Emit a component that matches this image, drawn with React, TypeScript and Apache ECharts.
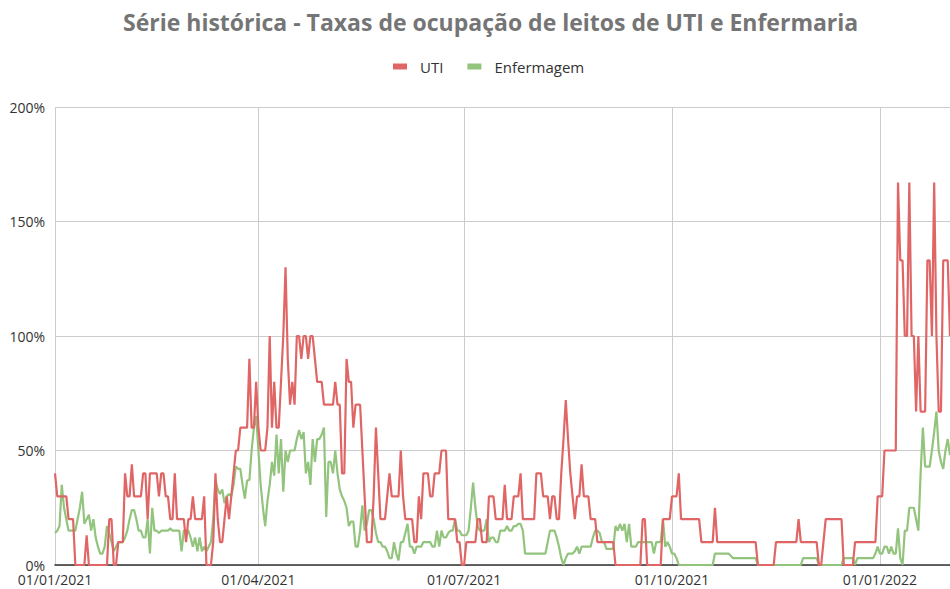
import React, { useEffect, useRef } from "react";
import * as echarts from "echarts";

const TITLE = "Série histórica - Taxas de ocupação de leitos de UTI e Enfermaria";
const SERIES_NAMES = ["UTI", "Enfermagem"];
const START_DATE = "2021-01-01";
const DAY_COUNT = 397;
const QUARTER_MONTHS = ["01", "04", "07", "10"];
const Y_TICKS = [0, 50, 100, 150, 200];

const uti = [
  40,30,30,30,30,30,20,20,20,0,
  0,0,0,0,13,0,0,0,0,0,
  0,0,0,0,20,20,0,0,10,10,
  10,40,30,30,44,30,30,30,30,40,
  40,20,40,40,40,40,30,40,40,30,
  30,20,20,40,20,20,20,20,10,20,
  20,30,20,20,20,20,30,0,0,0,
  10,40,20,10,10,20,30,20,30,40,
  50,50,60,60,60,60,90,60,60,80,
  60,50,50,50,60,100,60,80,60,60,
  80,100,130,90,70,80,70,100,100,90,
  100,100,90,100,100,90,80,80,80,70,
  70,70,70,70,80,70,70,40,40,90,
  80,80,60,70,70,70,50,30,10,10,
  10,30,60,40,20,20,20,30,40,30,
  30,30,30,50,30,20,20,20,20,10,
  10,30,20,40,40,40,30,30,40,40,
  40,50,50,50,20,20,20,20,10,10,
  0,0,10,10,10,10,10,20,20,10,
  10,10,30,30,30,20,20,20,20,35,
  20,20,20,30,30,30,40,20,20,20,
  20,20,20,40,40,40,30,30,30,20,
  30,30,20,20,40,55,72,55,40,30,
  20,30,30,44,30,30,30,20,20,20,
  10,10,10,10,10,10,10,10,0,0,
  0,0,0,0,0,0,0,0,0,0,
  20,20,0,0,0,0,0,0,0,20,
  20,20,20,30,30,30,40,20,20,20,
  20,20,20,20,20,20,10,10,10,10,
  10,10,25,10,10,10,10,10,10,10,
  10,10,10,10,10,10,10,10,10,10,
  10,0,0,0,0,0,0,0,0,10,
  10,10,10,10,10,10,10,10,10,20,
  10,10,10,10,10,10,10,10,0,0,
  10,20,20,20,20,20,20,20,20,0,
  0,0,0,0,10,10,10,10,10,10,
  10,10,10,10,30,30,30,50,50,50,
  50,50,50,167,133,133,100,100,167,100,
  100,67,100,67,67,67,133,133,100,167,
  100,67,67,133,133,133,100,
];

const enfermagem = [
  14,15,17,35,25,20,15,15,15,15,
  20,25,32,18,20,22,15,20,12,8,
  5,5,8,17,14,10,6,8,10,10,
  10,12,15,20,24,24,20,15,15,12,
  12,20,5,25,15,15,14,15,15,15,
  15,16,15,15,15,15,6,15,15,15,
  12,8,12,6,12,6,8,6,8,10,
  20,37,33,31,33,27,30,31,30,35,
  43,42,42,35,29,37,37,50,60,65,
  50,35,25,17,28,35,45,39,57,40,
  55,32,50,45,50,50,50,55,59,55,
  58,40,45,35,55,45,55,55,57,60,
  21,45,45,40,50,40,33,30,28,25,
  17,19,19,8,8,15,26,15,18,24,
  24,20,14,10,10,8,8,6,3,3,
  10,5,2,10,10,14,18,8,8,5,
  8,8,8,10,10,10,10,8,8,15,
  8,15,12,12,14,15,15,20,15,15,
  13,13,13,15,25,36,25,17,15,15,
  15,20,10,12,12,10,10,15,15,15,
  17,15,15,17,17,18,18,15,5,5,
  5,5,5,5,5,5,5,5,10,15,
  15,15,12,8,3,0,3,5,5,5,
  6,8,5,8,8,8,8,8,12,15,
  15,14,10,10,7,7,7,7,17,15,
  18,15,18,10,18,8,8,8,10,10,
  10,10,10,10,10,5,10,10,10,20,
  8,10,8,5,5,3,0,0,0,0,
  0,0,0,0,0,0,0,0,0,0,
  0,0,5,5,5,5,5,5,5,4,
  3,3,3,3,3,3,3,3,3,3,
  3,0,0,0,0,0,0,0,0,0,
  0,0,0,0,0,0,0,0,0,0,
  0,3,3,3,3,3,3,3,0,0,
  0,0,0,0,0,0,0,0,0,3,
  3,3,3,3,0,3,3,3,3,3,
  3,3,3,5,8,5,5,8,8,5,
  8,5,5,16,3,0,15,15,25,25,
  25,20,15,40,60,43,43,43,50,58,
  67,50,45,42,50,55,48,
];

function buildDates(start: string, count: number): string[] {
  const out: string[] = [];
  const base = new Date(start + "T00:00:00Z").getTime();
  for (let i = 0; i < count; i++) {
    const d = new Date(base + i * 86400000);
    const dd = String(d.getUTCDate()).padStart(2, "0");
    const mm = String(d.getUTCMonth() + 1).padStart(2, "0");
    out.push(`${dd}/${mm}/${d.getUTCFullYear()}`);
  }
  return out;
}

const categories = buildDates(START_DATE, DAY_COUNT);

const isQuarterStart = (_i: number, v: string) =>
  v.startsWith("01/") && QUARTER_MONTHS.includes(v.slice(3, 5));

export default function App() {
  const ref = useRef<HTMLDivElement>(null);
  useEffect(() => {
    if (!ref.current) return;
    const chart = echarts.init(ref.current, null, { renderer: "svg" });
    const font = "Open Sans";
    chart.setOption({
      animation: false,
      backgroundColor: "#ffffff",
      title: {
        text: TITLE,
        left: 118,
        top: 5,
        textStyle: { fontFamily: font, fontSize: 23, fontWeight: "bold", color: "#757575" },
      },
      legend: {
        data: SERIES_NAMES,
        top: 54,
        left: 388,
        icon: "rect",
        itemWidth: 14,
        itemHeight: 6,
        itemGap: 24,
        textStyle: { fontFamily: font, fontSize: 15, color: "#333", padding: [0, 0, 0, 8] },
      },
      grid: { left: 55, right: 0, top: 107, bottom: 24, containLabel: false },
      xAxis: {
        type: "category",
        data: categories,
        boundaryGap: false,
        axisLine: { show: true, lineStyle: { color: "#333", width: 1.5 } },
        axisTick: { show: false },
        axisLabel: {
          interval: isQuarterStart,
          margin: 7,
          fontFamily: font,
          fontSize: 14,
          color: "#333",
        },
        splitLine: {
          show: true,
          interval: isQuarterStart,
          lineStyle: { color: "#cccccc", width: 1 },
        },
      },
      yAxis: {
        type: "value",
        min: Y_TICKS[0],
        max: Y_TICKS[Y_TICKS.length - 1],
        interval: 50,
        axisLine: { show: false },
        axisTick: { show: false },
        axisLabel: {
          formatter: "{value}%",
          margin: 10,
          fontFamily: font,
          fontSize: 14,
          color: "#333",
        },
        splitLine: { show: true, lineStyle: { color: "#cccccc", width: 1 } },
      },
      series: [
        {
          name: SERIES_NAMES[0],
          type: "line",
          data: uti,
          showSymbol: false,
          symbol: "none",
          lineStyle: { color: "#e06666", width: 2.2 },
          itemStyle: { color: "#e06666" },
          z: 3,
        },
        {
          name: SERIES_NAMES[1],
          type: "line",
          data: enfermagem,
          showSymbol: false,
          symbol: "none",
          lineStyle: { color: "#93c47d", width: 2.2 },
          itemStyle: { color: "#93c47d" },
          z: 2,
        },
      ],
    });
    return () => chart.dispose();
  }, []);
  return (
    <div
      ref={ref}
      style={{ position: "fixed", left: 0, top: 0, width: 950, height: 589, background: "#fff" }}
    />
  );
}
